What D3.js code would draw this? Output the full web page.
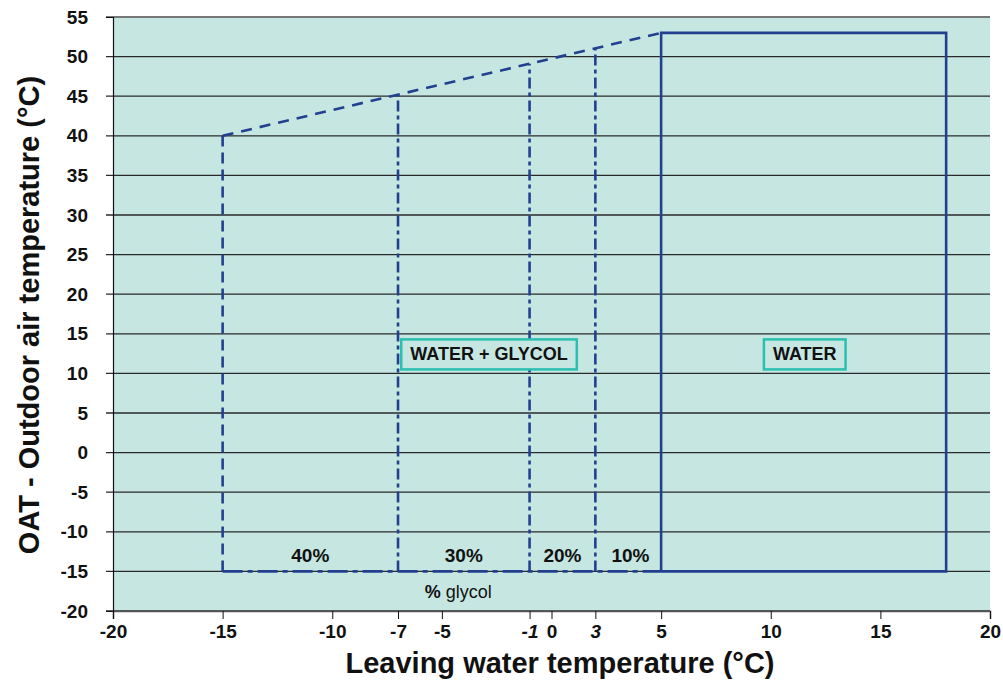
<!DOCTYPE html>
<html><head><meta charset="utf-8">
<script src="https://cdn.jsdelivr.net/npm/d3@7"></script>
<style>body{margin:0;background:#fff;} text{font-family:"Liberation Sans",Arial,sans-serif;}</style>
</head><body><svg id="c" width="1003" height="684"></svg>
<script>
// tick positions on the axis and the labels printed there (the "3" label sits at position 2 in the original)
const xTickPos    = [-20,-15,-10,-7,-5,-1,0,2,5,10,15,20];
const xTickLabels = ["-20","-15","-10","-7","-5","-1","0","3","5","10","15","20"];
const xItalic = ["-1","3"];
const yTicks = [-20,-15,-10,-5,0,5,10,15,20,25,30,35,40,45,50,55];
// glycol envelope
const topLine = [[-15,40],[5,53]];
const glycolBottom = [[-15,-15],[5,-15]];
const leftEdge = [[-15,-15],[-15,40]];
const dividerX   = [-7,-1,2];
const dividerTop = [45.2,49.1,51.1];
const waterBox = [[5,-15],[5,53],[18,53],[18,-15],[5,-15]];
const pctX = [-11,-4,0.5,3.6];
const pctText = ["40%","30%","20%","10%"];
const boxX = [-2.85,11.55];
const boxText = ["WATER + GLYCOL","WATER"];

const svg = d3.select("#c");
const L=113,R=990,T=17,B=611;
const x = d3.scaleLinear().domain([-20,20]).range([L,R]);
const y = d3.scaleLinear().domain([-20,55]).range([B,T]);
const blue="#22408f", bg="#c6e7e1";

svg.append("rect").attr("x",L).attr("y",T).attr("width",R-L).attr("height",B-T).attr("fill",bg);

// gridlines
svg.append("g").selectAll("line").data(yTicks).join("line")
  .attr("x1",L-7).attr("x2",R).attr("y1",d=>y(d)).attr("y2",d=>y(d))
  .attr("stroke",d=>d===55?"#777":"#2a2a2a").attr("stroke-width",d=>d===55?2:1.3);

// axes
const yAx = svg.append("g").attr("transform",`translate(${L},0)`)
  .call(d3.axisLeft(y).tickValues(yTicks).tickSize(7).tickPadding(18).tickFormat(d=>String(d)));
yAx.select(".domain").attr("stroke","#111").attr("stroke-width",1.2);
yAx.selectAll("line").remove();
yAx.selectAll("text").attr("font-size",19).attr("font-weight","bold").attr("fill","#111");

const xAx = svg.append("g").attr("transform",`translate(0,${B})`)
  .call(d3.axisBottom(x).tickValues(xTickPos).tickSize(8).tickPadding(6)
    .tickFormat((d,i)=>xTickLabels[i]));
xAx.select(".domain").attr("stroke","#555").attr("stroke-width",1.6);
xAx.selectAll("line").attr("stroke","#111");
xAx.selectAll("text").attr("font-size",19).attr("font-weight","bold").attr("fill","#111")
  .attr("font-style",(d,i)=>xItalic.includes(xTickLabels[i])?"italic":"normal");

const line = d3.line().x(d=>x(d[0])).y(d=>y(d[1]));
const g = svg.append("g").attr("fill","none").attr("stroke",blue).attr("stroke-width",2.6);
g.append("path").attr("d",line(topLine)).attr("stroke-dasharray","11,8");
g.append("path").attr("d",line(leftEdge)).attr("stroke-dasharray","11,6");
g.append("path").attr("d",line(glycolBottom)).attr("stroke-dasharray","20,5,5,5");
g.selectAll(".div").data(dividerX).join("path")
  .attr("d",(d,i)=>line([[d,-15],[d,dividerTop[i]]])).attr("stroke-dasharray","11,4,4,4");
g.append("path").attr("d",line(waterBox)).attr("stroke-linejoin","miter");

svg.append("g").selectAll("text").data(pctText).join("text")
  .attr("x",(d,i)=>x(pctX[i])).attr("y",y(-13.8)).attr("text-anchor","middle")
  .attr("font-size",19).attr("font-weight","bold").attr("fill","#111").text(d=>d);

const gl = svg.append("text").attr("x",x(-4.25)).attr("y",y(-18.3)).attr("text-anchor","middle")
  .attr("font-size",18).attr("fill","#111");
gl.append("tspan").attr("font-weight","bold").text("%");
gl.append("tspan").text(" glycol");

const bl = svg.append("g").selectAll("g").data(boxText).join("g");
bl.append("text").attr("x",(d,i)=>x(boxX[i])).attr("y",y(12.4)).attr("text-anchor","middle")
  .attr("dominant-baseline","central").attr("font-size",18).attr("font-weight","bold").attr("fill","#111").text(d=>d)
  .each(function(){
    const b=this.getBBox();
    d3.select(this.parentNode).insert("rect","text").attr("x",b.x-9).attr("y",y(12.4)-15)
      .attr("width",b.width+18).attr("height",30).attr("fill",bg)
      .attr("stroke","#2bbfb0").attr("stroke-width",2.5);
  });

svg.append("text").attr("x",560).attr("y",673).attr("text-anchor","middle")
  .attr("font-size",29).attr("font-weight","bold").attr("fill","#111").text("Leaving water temperature (°C)");
svg.append("text").attr("transform",`translate(39,315) rotate(-90)`).attr("text-anchor","middle")
  .attr("font-size",29).attr("font-weight","bold").attr("fill","#111").text("OAT - Outdoor air temperature (°C)");
</script></body></html>
